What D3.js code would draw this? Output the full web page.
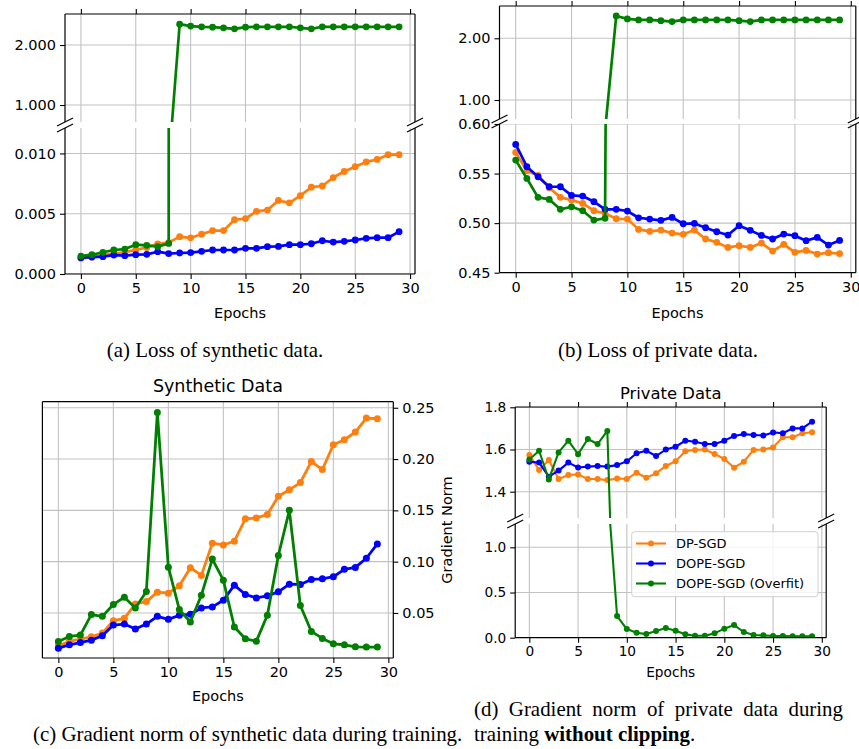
<!DOCTYPE html>
<html>
<head>
<meta charset="utf-8">
<script src="https://cdn.jsdelivr.net/npm/d3@7"></script>
<style>
body { margin: 0; background: #fff; }
svg { display: block; }
text { font-family: "DejaVu Sans", sans-serif; fill: #000; }
.cap { font-family: "Liberation Serif", "Times New Roman", serif; font-size: 20.9px; }
</style>
</head>
<body>
<svg id="fig" width="859" height="749"></svg>
<script>
const epochs = [0,1,2,3,4,5,6,7,8,9,10,11,12,13,14,15,16,17,18,19,20,21,22,23,24,25,26,27,28,29]
const xTicks = [0, 5, 10, 15, 20, 25, 30]
const seriesNames = ['DP-SGD', 'DOPE-SGD', 'DOPE-SGD (Overfit)']
const seriesColors = ['#ff7f0e', '#0000ff', '#008000']

// (a) loss of synthetic data
const lossSynDP = [0.0013,0.0014,0.0016,0.0017,0.0018,0.0020,0.0022,0.0025,0.0026,0.0031,0.0030,0.0033,0.0036,0.0036,0.0045,0.0046,0.0052,0.0053,0.0061,0.0059,0.0065,0.0072,0.0073,0.0080,0.0085,0.0089,0.0093,0.0095,0.0099,0.0099]
const lossSynDOPE = [0.00135,0.0014,0.00144,0.00157,0.00152,0.0016,0.00163,0.00185,0.00169,0.00174,0.00177,0.00188,0.00199,0.00199,0.00199,0.00213,0.00213,0.00227,0.00229,0.00243,0.00243,0.00251,0.00276,0.00265,0.00271,0.00282,0.00296,0.00301,0.00301,0.00351]
const lossSynOverfit = [0.00149,0.0016,0.0018,0.00199,0.00207,0.00243,0.00238,0.00227,0.00254,2.348,2.315,2.304,2.298,2.287,2.27,2.298,2.304,2.304,2.304,2.304,2.287,2.27,2.304,2.304,2.304,2.304,2.304,2.304,2.304,2.304]
const ticksA_top = [1.0, 2.0]
const ticksA_bot = [0, 0.005, 0.010]

// (b) loss of private data
const lossPrivDP = [0.5713,0.5528,0.5481,0.5357,0.526,0.5233,0.5199,0.5125,0.5098,0.5044,0.5041,0.4937,0.4917,0.493,0.49,0.4887,0.493,0.484,0.4806,0.4755,0.4772,0.4755,0.4799,0.4718,0.4786,0.4705,0.4725,0.4688,0.4701,0.4692]
const lossPrivDOPE = [0.5794,0.5569,0.5468,0.5367,0.5367,0.528,0.5273,0.5216,0.5139,0.5139,0.5122,0.5054,0.5041,0.5028,0.5058,0.4994,0.4997,0.4954,0.4913,0.488,0.4974,0.4927,0.4876,0.484,0.489,0.4873,0.4823,0.4856,0.4779,0.4826]
const lossPrivOverfit = [0.5636,0.5451,0.526,0.5239,0.5139,0.5165,0.5125,0.5031,0.5048,2.362,2.314,2.297,2.297,2.286,2.27,2.297,2.297,2.297,2.297,2.297,2.286,2.27,2.297,2.297,2.297,2.297,2.297,2.297,2.297,2.297]
const ticksB_top = [1.0, 2.0]
const ticksB_bot = [0.45, 0.50, 0.55, 0.60]

// (c) gradient norm, synthetic data
const gradSynDP = [0.018,0.0222,0.0245,0.0268,0.0304,0.0425,0.0448,0.0588,0.0611,0.0703,0.0693,0.0765,0.0941,0.0866,0.118,0.1163,0.1199,0.1417,0.1426,0.1459,0.1638,0.17,0.1771,0.1976,0.1898,0.2139,0.2188,0.2263,0.2399,0.2393]
const gradSynDOPE = [0.0157,0.0189,0.0212,0.0235,0.0278,0.0382,0.0392,0.0343,0.0392,0.0467,0.0438,0.0478,0.0487,0.0549,0.0559,0.0624,0.0771,0.068,0.0647,0.0667,0.0706,0.0781,0.0778,0.0827,0.0833,0.0853,0.0925,0.0944,0.1033,0.1173]
const gradSynOverfit = [0.0222,0.0271,0.0284,0.0484,0.0467,0.0582,0.0654,0.0549,0.0709,0.2453,0.0946,0.0533,0.0412,0.0673,0.1025,0.082,0.0363,0.0248,0.0225,0.0477,0.106,0.15,0.0572,0.032,0.0252,0.0199,0.019,0.017,0.0167,0.0167]
const ticksC = [0.05, 0.10, 0.15, 0.20, 0.25]

// (d) gradient norm, private data
const gradPrivDP = [1.574,1.503,1.550,1.460,1.479,1.482,1.460,1.460,1.455,1.463,1.460,1.490,1.466,1.487,1.522,1.544,1.592,1.598,1.600,1.579,1.555,1.514,1.542,1.598,1.600,1.610,1.658,1.658,1.677,1.682]
const gradPrivDOPE = [1.542,1.538,1.471,1.50,1.538,1.515,1.519,1.522,1.519,1.526,1.544,1.582,1.594,1.569,1.60,1.613,1.642,1.637,1.626,1.626,1.642,1.664,1.673,1.669,1.666,1.681,1.677,1.70,1.70,1.732]
const gradPrivOverfit = [1.553,1.594,1.458,1.586,1.642,1.578,1.65,1.626,1.688,0.24,0.096,0.055,0.04,0.074,0.107,0.077,0.037,0.022,0.022,0.048,0.10,0.14,0.063,0.03,0.026,0.018,0.018,0.015,0.015,0.015]
const ticksD_top = [1.4, 1.6, 1.8]
const ticksD_bot = [0.0, 0.5, 1.0]

const capA = '(a) Loss of synthetic data.'
const capB = '(b) Loss of private data.'
const capC = '(c) Gradient norm of synthetic data during training.'
const capD = ['(d) Gradient norm of private data during', 'training ', 'without clipping', '.']

const svg = d3.select('#fig')
const defs = svg.append('defs')
let clipN = 0

const breakMark = (cx, cy) => {
    svg.append('line')
        .attr('x1', cx - 8).attr('y1', cy + 4)
        .attr('x2', cx + 8).attr('y2', cy - 4)
        .attr('stroke', '#000').attr('stroke-width', 1.2)
}

// one axes box (or one half of a broken axis)
const drawSub = (p, s) => {
    const x = d3.scaleLinear().domain([-1.45, 30.45]).range(p.xr)
    const y = d3.scaleLinear().domain(s.yd).range([s.y1, s.y0])
    const g = svg.append('g')
    const id = 'clip' + (clipN++)
    defs.append('clipPath').attr('id', id).append('rect')
        .attr('x', p.xr[0]).attr('y', s.y0)
        .attr('width', p.xr[1] - p.xr[0]).attr('height', s.y1 - s.y0)

    const grid = g.append('g').attr('clip-path', 'url(#' + id + ')')
        .attr('stroke', '#c2c2c2').attr('stroke-width', 1.1)
    grid.selectAll('.vg').data(xTicks).enter().append('line')
        .attr('x1', d => x(d)).attr('x2', d => x(d))
        .attr('y1', s.y0).attr('y2', s.y1)
    grid.selectAll('.hg').data(s.ticks).enter().append('line')
        .attr('x1', p.xr[0]).attr('x2', p.xr[1])
        .attr('y1', d => y(d)).attr('y2', d => y(d))

    p.series.forEach((vals, k) => {
        const sg = g.append('g').attr('clip-path', 'url(#' + id + ')')
        sg.append('path').datum(vals)
            .attr('d', d3.line().x((d, i) => x(epochs[i])).y(d => y(d)))
            .attr('fill', 'none').attr('stroke', seriesColors[k])
            .attr('stroke-width', p.lw).attr('stroke-linejoin', 'round')
        sg.selectAll('circle').data(vals).enter().append('circle')
            .attr('cx', (d, i) => x(epochs[i])).attr('cy', d => y(d))
            .attr('r', p.mr).attr('fill', seriesColors[k])
    })

    const sp = g.append('g').attr('stroke', '#000').attr('stroke-width', 1.2)
    sp.append('line').attr('x1', p.xr[0]).attr('x2', p.xr[0]).attr('y1', s.y0).attr('y2', s.y1)
    sp.append('line').attr('x1', p.xr[1]).attr('x2', p.xr[1]).attr('y1', s.y0).attr('y2', s.y1)
    if (!s.openTop) sp.append('line').attr('x1', p.xr[0]).attr('x2', p.xr[1]).attr('y1', s.y0).attr('y2', s.y0)
    if (!s.openBottom) sp.append('line').attr('x1', p.xr[0]).attr('x2', p.xr[1]).attr('y1', s.y1).attr('y2', s.y1)

    const yAxis = (p.right ? d3.axisRight(y) : d3.axisLeft(y))
        .tickValues(s.ticks).tickFormat(d3.format(s.fmt)).tickSize(5).tickPadding(4)
    g.append('g').attr('transform', 'translate(' + (p.right ? p.xr[1] : p.xr[0]) + ',0)').call(yAxis)
    if (s.xTop) {
        g.append('g').attr('transform', 'translate(0,' + s.y0 + ')')
            .call(d3.axisTop(x).tickValues(xTicks).tickSize(5).tickFormat(''))
    }
    if (s.xBottom) {
        g.append('g').attr('transform', 'translate(0,' + s.y1 + ')')
            .call(d3.axisBottom(x).tickValues(xTicks).tickSize(5).tickPadding(4))
    }
    g.selectAll('.domain').remove()
    g.selectAll('.tick line').attr('stroke', '#000').attr('stroke-width', 1.1)
    g.selectAll('.tick text').attr('font-family', '"DejaVu Sans", sans-serif')
        .attr('font-size', p.fs).attr('fill', '#000')

    if (s.openBottom) { breakMark(p.xr[0], s.y1); breakMark(p.xr[1], s.y1) }
    if (s.openTop) { breakMark(p.xr[0], s.y0); breakMark(p.xr[1], s.y0) }
}

const panels = [
    {   // (a)
        xr: [65, 415], lw: 2.7, mr: 3.4, fs: 14.5, cx: 240, xlabelY: 318,
        series: [lossSynDP, lossSynDOPE, lossSynOverfit],
        subs: [
            {y0: 14, y1: 122, yd: [0.717, 2.517], ticks: ticksA_top, fmt: '.3f', openBottom: true, xTop: true},
            {y0: 128, y1: 274, yd: [0, 0.01211], ticks: ticksA_bot, fmt: '.3f', openTop: true, xBottom: true}
        ]
    },
    {   // (b)
        xr: [499.5, 855.8], lw: 2.7, mr: 3.4, fs: 14.5, cx: 677.6, xlabelY: 318,
        series: [lossPrivDP, lossPrivDOPE, lossPrivOverfit],
        subs: [
            {y0: 6, y1: 119, yd: [0.692, 2.523], ticks: ticksB_top, fmt: '.2f', openBottom: true, xTop: true},
            {y0: 124, y1: 272.7, yd: [0.45, 0.60], ticks: ticksB_bot, fmt: '.2f', openTop: true, xBottom: true}
        ]
    },
    {   // (c)
        xr: [42.4, 393.3], lw: 2.8, mr: 3.5, fs: 14.5, right: true, cx: 217.9, xlabelY: 701,
        title: 'Synthetic Data', titleY: 392, titleFs: 17.5,
        series: [gradSynDP, gradSynDOPE, gradSynOverfit],
        subs: [
            {y0: 401.7, y1: 658, yd: [0.0061, 0.2559], ticks: ticksC, fmt: '.2f', xBottom: true}
        ]
    },
    {   // (d)
        xr: [515.2, 826.2], lw: 2.1, mr: 3.0, fs: 13.7, cx: 670.7, xlabelY: 677,
        title: 'Private Data', titleY: 398.5, titleFs: 16.4, legend: true,
        series: [gradPrivDP, gradPrivDOPE, gradPrivOverfit],
        subs: [
            {y0: 407, y1: 518, yd: [1.2754, 1.8014], ticks: ticksD_top, fmt: '.1f', openBottom: true, xTop: true},
            {y0: 524, y1: 637.7, yd: [0, 1.258], ticks: ticksD_bot, fmt: '.1f', openTop: true, xBottom: true}
        ]
    }
]

panels.forEach(p => {
    p.subs.forEach(s => drawSub(p, s))
    svg.append('text').attr('x', p.cx).attr('y', p.xlabelY)
        .attr('text-anchor', 'middle').attr('font-size', p.fs).text('Epochs')
    if (p.title) {
        svg.append('text').attr('x', p.cx).attr('y', p.titleY)
            .attr('text-anchor', 'middle').attr('font-size', p.titleFs).text(p.title)
    }
})

// right-hand label of (c)
svg.append('text').attr('transform', 'translate(452,530) rotate(-90)')
    .attr('text-anchor', 'middle').attr('font-size', 14.5).text('Gradient Norm')

// legend of (d)
const leg = svg.append('g')
leg.append('rect').attr('x', 631.7).attr('y', 531.7).attr('width', 186.3).attr('height', 65)
    .attr('rx', 3).attr('fill', '#fff').attr('fill-opacity', 0.8)
    .attr('stroke', '#d0d0d0').attr('stroke-width', 1)
seriesNames.forEach((name, k) => {
    const yy = 543.5 + k * 20
    leg.append('line').attr('x1', 636).attr('x2', 666).attr('y1', yy).attr('y2', yy)
        .attr('stroke', seriesColors[k]).attr('stroke-width', 2.1)
    leg.append('circle').attr('cx', 651).attr('cy', yy).attr('r', 3).attr('fill', seriesColors[k])
    leg.append('text').attr('x', 676).attr('y', yy + 4.8).attr('font-size', 13).text(name)
})

// captions
svg.append('text').attr('class', 'cap').attr('x', 215).attr('y', 357).attr('text-anchor', 'middle').text(capA)
svg.append('text').attr('class', 'cap').attr('x', 658).attr('y', 357).attr('text-anchor', 'middle').text(capB)
svg.append('text').attr('class', 'cap').attr('x', 33).attr('y', 741).text(capC)
const d1 = svg.append('text').attr('class', 'cap').attr('x', 474).attr('y', 716).text(capD[0])
const natural = d1.node().getComputedTextLength()
d1.attr('word-spacing', (843 - 474 - natural) / (capD[0].split(' ').length - 1))
const d2 = svg.append('text').attr('class', 'cap').attr('x', 474).attr('y', 741)
d2.append('tspan').text(capD[1])
d2.append('tspan').attr('font-weight', 'bold').text(capD[2])
d2.append('tspan').text(capD[3])
</script>
</body>
</html>
